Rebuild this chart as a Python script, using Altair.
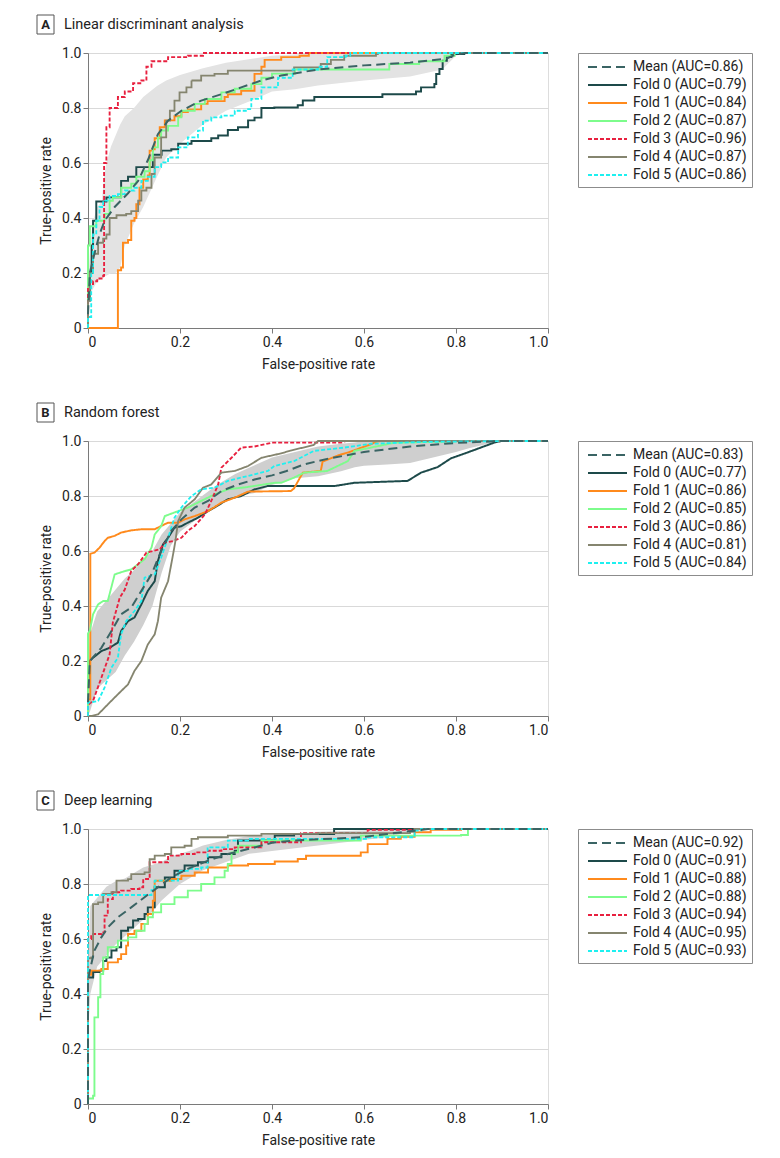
import altair as alt
import pandas as pd

FONT = "Roboto, Liberation Sans, sans-serif"

# ---------------- Panel titles ----------------
LETTERS = ["A", "B", "C"]
TITLES = ["Linear discriminant analysis", "Random forest", "Deep learning"]

SERIES = ["Mean", "Fold 0", "Fold 1", "Fold 2", "Fold 3", "Fold 4", "Fold 5"]
AUC_A = ["0.86", "0.79", "0.84", "0.87", "0.96", "0.87", "0.86"]
AUC_B = ["0.83", "0.77", "0.86", "0.85", "0.86", "0.81", "0.84"]
AUC_C = ["0.92", "0.91", "0.88", "0.88", "0.94", "0.95", "0.93"]

COLORS = ["#3a6464", "#1d4a4a", "#ff8a1c", "#7dfc8c", "#e8203f", "#85856f", "#1ef0f0"]
DASHES = [[9, 5], [1, 0], [1, 0], [1, 0], [4, 2], [1, 0], [4, 2]]
WIDTHS = [2.0, 1.8, 1.8, 1.8, 1.8, 1.8, 1.8]
BAND_COLORS = ["#e3e3e3", "#cfcfcf", "#d4d4d4"]

# ---------------- Panel A: LDA (fpr, tpr) ----------------
A_MEAN = [(0, 0.05), (0.004, 0.2), (0.014, 0.27), (0.025, 0.34), (0.036, 0.39), (0.058, 0.44),
          (0.087, 0.49), (0.109, 0.535), (0.13, 0.61), (0.152, 0.705), (0.174, 0.754), (0.203, 0.79),
          (0.246, 0.827), (0.29, 0.85), (0.333, 0.875), (0.377, 0.9), (0.42, 0.918), (0.5, 0.94),
          (0.6, 0.955), (0.7, 0.965), (0.78, 0.98), (0.8, 0.995), (0.82, 1.0), (1, 1)]
A_F0 = [(0, 0), (0, 0.1), (0.004, 0.2), (0.008, 0.3), (0.011, 0.39), (0.018, 0.46), (0.033, 0.46),
        (0.04, 0.475), (0.065, 0.475), (0.072, 0.535), (0.087, 0.55), (0.105, 0.585), (0.127, 0.585),
        (0.141, 0.63), (0.16, 0.645), (0.181, 0.65), (0.196, 0.67), (0.225, 0.68), (0.268, 0.69),
        (0.283, 0.70), (0.304, 0.72), (0.326, 0.73), (0.348, 0.755), (0.362, 0.765), (0.377, 0.8),
        (0.405, 0.802), (0.456, 0.81), (0.467, 0.827), (0.492, 0.84), (0.634, 0.84), (0.64, 0.85),
        (0.713, 0.86), (0.724, 0.875), (0.753, 0.887), (0.757, 0.924), (0.764, 0.942), (0.771, 0.972),
        (0.78, 0.985), (0.79, 0.996), (0.818, 1.0), (1, 1)]
A_F1 = [(0, 0), (0.065, 0), (0.065, 0.21), (0.072, 0.22), (0.076, 0.31), (0.087, 0.32), (0.094, 0.39),
        (0.101, 0.40), (0.105, 0.45), (0.112, 0.51), (0.12, 0.54), (0.13, 0.555), (0.134, 0.645),
        (0.141, 0.65), (0.145, 0.69), (0.156, 0.73), (0.167, 0.755), (0.188, 0.77), (0.203, 0.785),
        (0.217, 0.795), (0.246, 0.815), (0.26, 0.825), (0.297, 0.84), (0.304, 0.85), (0.333, 0.863),
        (0.362, 0.863), (0.362, 0.924), (0.377, 0.95), (0.384, 0.975), (0.41, 0.975), (0.42, 0.985),
        (0.46, 0.99), (0.48, 1.0), (1, 1)]
A_F2 = [(0, 0), (0, 0.3), (0.004, 0.37), (0.011, 0.37), (0.018, 0.39), (0.029, 0.39), (0.036, 0.415),
        (0.047, 0.463), (0.054, 0.475), (0.072, 0.51), (0.094, 0.525), (0.105, 0.55), (0.123, 0.57),
        (0.134, 0.61), (0.141, 0.657), (0.152, 0.693), (0.159, 0.718), (0.174, 0.735), (0.196, 0.766),
        (0.203, 0.79), (0.232, 0.815), (0.254, 0.833), (0.29, 0.857), (0.319, 0.87), (0.355, 0.887),
        (0.377, 0.91), (0.4, 0.925), (0.45, 0.94), (0.651, 0.94), (0.655, 0.96), (0.72, 0.97),
        (0.775, 0.99), (0.797, 1.0), (1, 1)]
A_F3 = [(0, 0), (0, 0.15), (0.004, 0.16), (0.011, 0.17), (0.02, 0.18), (0.033, 0.19), (0.035, 0.6),
        (0.04, 0.73), (0.047, 0.8), (0.065, 0.84), (0.08, 0.86), (0.098, 0.89), (0.116, 0.9),
        (0.127, 0.95), (0.138, 0.97), (0.167, 0.97), (0.174, 0.985), (0.217, 0.99), (0.25, 1.0), (1, 1)]
A_F4 = [(0, 0), (0, 0.1), (0.004, 0.2), (0.011, 0.27), (0.022, 0.31), (0.033, 0.325), (0.04, 0.34),
        (0.047, 0.40), (0.062, 0.41), (0.083, 0.415), (0.094, 0.425), (0.109, 0.463), (0.116, 0.5),
        (0.127, 0.51), (0.138, 0.56), (0.145, 0.62), (0.159, 0.693), (0.17, 0.754), (0.178, 0.79),
        (0.188, 0.827), (0.199, 0.857), (0.214, 0.875), (0.225, 0.9), (0.246, 0.918), (0.275, 0.924),
        (0.304, 0.936), (0.376, 0.936), (0.448, 0.948), (0.506, 0.96), (0.528, 0.975), (0.557, 0.99),
        (0.626, 0.996), (0.63, 1.0), (1, 1)]
A_F5 = [(0, 0), (0, 0.04), (0.007, 0.2), (0.011, 0.34), (0.018, 0.39), (0.025, 0.44), (0.033, 0.463),
        (0.047, 0.48), (0.065, 0.487), (0.08, 0.5), (0.101, 0.51), (0.116, 0.535), (0.13, 0.55),
        (0.145, 0.585), (0.159, 0.602), (0.174, 0.62), (0.196, 0.657), (0.217, 0.693), (0.239, 0.718),
        (0.25, 0.754), (0.268, 0.766), (0.29, 0.772), (0.319, 0.79), (0.348, 0.796), (0.355, 0.833),
        (0.377, 0.875), (0.413, 0.91), (0.445, 0.94), (0.5, 0.95), (0.52, 0.985), (0.56, 0.99),
        (0.57, 1.0), (1, 1)]
A_BAND_X = [0, 0.005, 0.01, 0.02, 0.03, 0.035, 0.04, 0.05, 0.06, 0.07, 0.08, 0.1, 0.12, 0.15, 0.17,
            0.2, 0.25, 0.3, 0.36, 0.4, 0.45, 0.5, 0.6, 0.7, 0.77, 0.8, 0.82, 1.0]
A_BAND_HI = [0.15, 0.3, 0.38, 0.44, 0.46, 0.55, 0.6, 0.66, 0.7, 0.74, 0.77, 0.8, 0.84, 0.88, 0.9,
             0.92, 0.945, 0.965, 0.98, 0.99, 0.995, 1.0, 1.0, 1.0, 1.0, 1.0, 1.0, 1.0]
A_BAND_LO = [0.05, 0.12, 0.14, 0.17, 0.18, 0.19, 0.19, 0.2, 0.2, 0.22, 0.3, 0.38, 0.44, 0.55, 0.62,
             0.67, 0.74, 0.79, 0.83, 0.86, 0.868, 0.882, 0.9, 0.915, 0.94, 0.99, 1.0, 1.0]

# ---------------- Panel B: Random forest ----------------
B_MEAN = [(0, 0.05), (0.004, 0.2), (0.029, 0.248), (0.051, 0.309), (0.072, 0.37), (0.094, 0.394),
          (0.116, 0.455), (0.138, 0.515), (0.159, 0.6), (0.181, 0.673), (0.203, 0.715), (0.232, 0.758),
          (0.261, 0.782), (0.29, 0.818), (0.326, 0.842), (0.362, 0.86), (0.4, 0.875), (0.43, 0.89),
          (0.47, 0.915), (0.52, 0.935), (0.6, 0.96), (0.7, 0.98), (0.8, 0.993), (0.9, 1.0), (1, 1)]
B_F0 = [(0, 0), (0, 0.1), (0.004, 0.2), (0.011, 0.212), (0.029, 0.236), (0.047, 0.248), (0.065, 0.267),
        (0.072, 0.309), (0.087, 0.345), (0.101, 0.358), (0.116, 0.406), (0.13, 0.455), (0.145, 0.49),
        (0.152, 0.564), (0.163, 0.624), (0.174, 0.648), (0.188, 0.685), (0.203, 0.69), (0.217, 0.703),
        (0.239, 0.721), (0.261, 0.745), (0.275, 0.758), (0.304, 0.788), (0.333, 0.8), (0.362, 0.824),
        (0.39, 0.836), (0.535, 0.836), (0.579, 0.848), (0.695, 0.855), (0.724, 0.885), (0.76, 0.905),
        (0.789, 0.937), (0.818, 0.954), (0.883, 0.994), (0.898, 1.0), (1, 1)]
B_F1 = [(0, 0), (0, 0.06), (0.005, 0.06), (0.005, 0.59), (0.014, 0.594), (0.025, 0.612), (0.036, 0.636),
        (0.043, 0.648), (0.058, 0.655), (0.072, 0.667), (0.094, 0.675), (0.116, 0.679), (0.145, 0.679),
        (0.159, 0.691), (0.174, 0.703), (0.196, 0.703), (0.21, 0.715), (0.232, 0.727), (0.261, 0.745),
        (0.29, 0.776), (0.319, 0.794), (0.348, 0.816), (0.441, 0.818), (0.448, 0.828), (0.467, 0.885),
        (0.506, 0.891), (0.51, 0.925), (0.546, 0.949), (0.565, 0.958), (0.615, 0.988), (0.626, 0.997),
        (0.637, 1.0), (1, 1)]
B_F2 = [(0, 0), (0, 0.3), (0.004, 0.31), (0.011, 0.37), (0.022, 0.406), (0.033, 0.418), (0.043, 0.418),
        (0.058, 0.515), (0.08, 0.527), (0.094, 0.533), (0.109, 0.552), (0.123, 0.57), (0.138, 0.612),
        (0.145, 0.66), (0.159, 0.69), (0.167, 0.727), (0.196, 0.745), (0.217, 0.758), (0.246, 0.782),
        (0.275, 0.806), (0.304, 0.824), (0.348, 0.833), (0.406, 0.848), (0.42, 0.848), (0.448, 0.867),
        (0.47, 0.885), (0.52, 0.891), (0.565, 0.927), (0.579, 0.964), (0.615, 0.976), (0.666, 0.994),
        (0.84, 1.0), (1, 1)]
B_F3 = [(0, 0), (0, 0.04), (0.011, 0.055), (0.029, 0.139), (0.047, 0.224), (0.054, 0.34), (0.069, 0.43),
        (0.08, 0.46), (0.094, 0.527), (0.109, 0.552), (0.127, 0.594), (0.141, 0.6), (0.156, 0.606),
        (0.167, 0.63), (0.185, 0.636), (0.203, 0.648), (0.217, 0.673), (0.232, 0.691), (0.254, 0.733),
        (0.268, 0.782), (0.283, 0.842), (0.29, 0.903), (0.312, 0.939), (0.333, 0.976), (0.362, 0.98),
        (0.4, 0.994), (0.55, 0.994), (0.56, 1.0), (1, 1)]
B_F4 = [(0, 0), (0.007, 0), (0.022, 0.006), (0.043, 0.042), (0.065, 0.079), (0.087, 0.115), (0.101, 0.164),
        (0.116, 0.2), (0.13, 0.26), (0.145, 0.297), (0.152, 0.345), (0.159, 0.43), (0.174, 0.49),
        (0.185, 0.588), (0.19, 0.636), (0.196, 0.709), (0.21, 0.758), (0.232, 0.788), (0.25, 0.83),
        (0.268, 0.842), (0.29, 0.885), (0.319, 0.891), (0.348, 0.909), (0.377, 0.939), (0.42, 0.955),
        (0.44, 0.965), (0.49, 0.985), (0.5, 1.0), (1, 1)]
B_F5 = [(0, 0), (0, 0.05), (0.007, 0.05), (0.022, 0.055), (0.036, 0.103), (0.051, 0.176), (0.065, 0.212),
        (0.072, 0.297), (0.083, 0.345), (0.101, 0.382), (0.116, 0.418), (0.123, 0.503), (0.145, 0.515),
        (0.159, 0.576), (0.174, 0.648), (0.188, 0.721), (0.203, 0.758), (0.225, 0.8), (0.246, 0.824),
        (0.275, 0.83), (0.304, 0.855), (0.348, 0.873), (0.391, 0.891), (0.405, 0.909), (0.448, 0.927),
        (0.491, 0.964), (0.557, 0.976), (0.615, 0.99), (0.738, 0.997), (0.927, 1.0), (1, 1)]
B_BAND_X = [0, 0.005, 0.02, 0.04, 0.06, 0.08, 0.1, 0.12, 0.14, 0.16, 0.18, 0.2, 0.24, 0.28, 0.32,
            0.36, 0.4, 0.45, 0.5, 0.55, 0.58, 0.6, 0.65, 0.7, 0.75, 0.8, 0.83, 0.88, 0.9, 1.0]
B_BAND_HI = [0.1, 0.3, 0.38, 0.42, 0.46, 0.5, 0.53, 0.57, 0.6, 0.66, 0.7, 0.74, 0.79, 0.84, 0.88,
             0.91, 0.94, 0.96, 0.98, 0.99, 0.995, 1.0, 1.0, 1.0, 1.0, 1.0, 1.0, 1.0, 1.0, 1.0]
B_BAND_LO = [0.0, 0.02, 0.1, 0.13, 0.16, 0.22, 0.27, 0.33, 0.4, 0.52, 0.62, 0.67, 0.72, 0.77, 0.8,
             0.81, 0.84, 0.865, 0.872, 0.89, 0.905, 0.91, 0.915, 0.92, 0.94, 0.96, 0.975, 0.994, 1.0, 1.0]

# ---------------- Panel C: Deep learning ----------------
C_MEAN = [(0, 0.0), (0, 0.45), (0.004, 0.485), (0.014, 0.558), (0.029, 0.606), (0.043, 0.642),
          (0.065, 0.679), (0.094, 0.715), (0.123, 0.752), (0.152, 0.788), (0.181, 0.824), (0.217, 0.855),
          (0.261, 0.885), (0.304, 0.909), (0.362, 0.933), (0.4, 0.95), (0.448, 0.958), (0.593, 0.97),
          (0.71, 0.994), (0.739, 1.0), (1, 1)]
C_F0 = [(0, 0), (0, 0.46), (0.011, 0.48), (0.025, 0.485), (0.033, 0.52), (0.04, 0.533), (0.051, 0.558),
        (0.062, 0.57), (0.072, 0.63), (0.087, 0.642), (0.098, 0.667), (0.109, 0.673), (0.123, 0.691),
        (0.13, 0.715), (0.145, 0.788), (0.167, 0.824), (0.188, 0.848), (0.21, 0.867), (0.239, 0.879),
        (0.261, 0.897), (0.29, 0.909), (0.319, 0.921), (0.326, 0.958), (0.377, 0.958), (0.406, 0.976),
        (0.448, 0.982), (0.535, 1.0), (1, 1)]
C_F1 = [(0, 0), (0, 0.47), (0.007, 0.485), (0.029, 0.491), (0.043, 0.515), (0.065, 0.527), (0.072, 0.545),
        (0.083, 0.576), (0.087, 0.618), (0.101, 0.63), (0.116, 0.655), (0.13, 0.691), (0.141, 0.739),
        (0.145, 0.812), (0.181, 0.818), (0.203, 0.83), (0.232, 0.842), (0.261, 0.86), (0.304, 0.867),
        (0.348, 0.873), (0.406, 0.882), (0.427, 0.882), (0.456, 0.891), (0.474, 0.903), (0.593, 0.915),
        (0.608, 0.945), (0.651, 0.964), (0.68, 0.972), (0.71, 0.988), (0.745, 0.997), (0.811, 1.0), (1, 1)]
C_F2 = [(0, 0), (0, 0.02), (0.011, 0.03), (0.014, 0.315), (0.022, 0.388), (0.027, 0.473), (0.033, 0.533),
        (0.043, 0.57), (0.065, 0.594), (0.087, 0.606), (0.105, 0.63), (0.123, 0.655), (0.13, 0.679),
        (0.141, 0.697), (0.159, 0.727), (0.188, 0.752), (0.217, 0.776), (0.246, 0.8), (0.275, 0.824),
        (0.297, 0.848), (0.304, 0.873), (0.312, 0.915), (0.326, 0.939), (0.377, 0.958), (0.593, 0.976),
        (0.811, 0.978), (0.826, 1.0), (1, 1)]
C_F3 = [(0, 0), (0, 0.6), (0.007, 0.618), (0.029, 0.624), (0.036, 0.685), (0.043, 0.745), (0.054, 0.77),
        (0.072, 0.776), (0.094, 0.782), (0.112, 0.788), (0.12, 0.818), (0.13, 0.818), (0.134, 0.879),
        (0.159, 0.879), (0.174, 0.903), (0.203, 0.909), (0.232, 0.915), (0.261, 0.921), (0.29, 0.927),
        (0.319, 0.933), (0.377, 0.952), (0.463, 0.985), (0.608, 0.997), (0.71, 1.0), (1, 1)]
C_F4 = [(0, 0), (0, 0.53), (0.007, 0.533), (0.011, 0.727), (0.022, 0.733), (0.033, 0.764), (0.051, 0.77),
        (0.062, 0.812), (0.087, 0.818), (0.094, 0.836), (0.123, 0.842), (0.134, 0.89), (0.145, 0.903),
        (0.167, 0.909), (0.181, 0.933), (0.21, 0.939), (0.225, 0.964), (0.239, 0.97), (0.304, 0.976),
        (0.377, 0.982), (0.5, 0.985), (0.7, 0.99), (0.71, 1.0), (1, 1)]
C_F5 = [(0, 0), (0, 0.76), (0.094, 0.76), (0.138, 0.778), (0.145, 0.812), (0.159, 0.812), (0.196, 0.848),
        (0.217, 0.855), (0.246, 0.86), (0.26, 0.933), (0.304, 0.958), (0.348, 0.964), (0.593, 0.964),
        (0.608, 0.97), (0.71, 0.994), (0.724, 1.0), (1, 1)]
C_BAND_X = [0, 0.005, 0.02, 0.04, 0.06, 0.08, 0.1, 0.12, 0.14, 0.16, 0.18, 0.2, 0.22, 0.25, 0.3,
            0.35, 0.4, 0.5, 0.6, 0.65, 0.7, 0.75, 1.0]
C_BAND_HI = [0.5, 0.72, 0.75, 0.79, 0.81, 0.82, 0.84, 0.86, 0.87, 0.88, 0.9, 0.91, 0.92, 0.94, 0.96,
             0.975, 0.98, 0.99, 0.995, 1.0, 1.0, 1.0, 1.0]
C_BAND_LO = [0.25, 0.4, 0.5, 0.54, 0.58, 0.61, 0.64, 0.67, 0.7, 0.74, 0.77, 0.8, 0.82, 0.85, 0.88,
             0.91, 0.92, 0.94, 0.96, 0.97, 0.99, 1.0, 1.0]

PANELS = [
    dict(curves=[A_MEAN, A_F0, A_F1, A_F2, A_F3, A_F4, A_F5], auc=AUC_A,
         band=(A_BAND_X, A_BAND_HI, A_BAND_LO), interp="step-after"),
    dict(curves=[B_MEAN, B_F0, B_F1, B_F2, B_F3, B_F4, B_F5], auc=AUC_B,
         band=(B_BAND_X, B_BAND_HI, B_BAND_LO), interp="linear"),
    dict(curves=[C_MEAN, C_F0, C_F1, C_F2, C_F3, C_F4, C_F5], auc=AUC_C,
         band=(C_BAND_X, C_BAND_HI, C_BAND_LO), interp="step-after"),
]

W, H = 460, 275
TICKS = [0, 0.2, 0.4, 0.6, 0.8, 1.0]
LABEL_EXPR = "datum.value == 0 ? '0' : format(datum.value, '.1f')"


def axis(title, grid):
    return alt.Axis(title=title, values=TICKS, labelExpr=LABEL_EXPR, grid=grid,
                    gridColor="#d9d9d9", gridWidth=1, domainColor="#7a7a7a", tickColor="#7a7a7a",
                    tickSize=5, labelFontSize=14, titleFontSize=14, titleFontWeight="normal",
                    labelColor="#222222", titleColor="#222222", labelFont=FONT, titleFont=FONT,
                    labelPadding=2, titlePadding=8)


def make_panel(k):
    p = PANELS[k]
    labels = [f"{s} (AUC={a})" for s, a in zip(SERIES, p["auc"])]
    rows = []
    for s_idx, pts in enumerate(p["curves"]):
        for i, (x, y) in enumerate(pts):
            rows.append(dict(series=labels[s_idx], fpr=x, tpr=y, i=i, mean=(s_idx == 0)))
    df = pd.DataFrame(rows)
    bx, bhi, blo = p["band"]
    band_df = pd.DataFrame(dict(fpr=bx, tpr=bhi, lo=blo))

    xs = alt.Scale(domain=[0, 1], nice=False, zero=False)
    ys = alt.Scale(domain=[0, 1], nice=False, zero=False)
    X = alt.X("fpr:Q", scale=xs, axis=axis("False-positive rate", False))
    Y = alt.Y("tpr:Q", scale=ys, axis=axis("True-positive rate", True))

    color = alt.Color("series:N", scale=alt.Scale(domain=labels, range=COLORS),
                      legend=alt.Legend(title=None, orient="none", legendX=490, legendY=0,
                                        padding=5, strokeColor="#8c8c8c", fillColor="white",
                                        symbolType="M-0.5,0H4.375", symbolSize=256,
                                        symbolStrokeWidth=2, labelFontSize=14, labelFont=FONT,
                                        labelColor="#222222", rowPadding=2, labelOffset=32,
                                        labelLimit=300, cornerRadius=0))
    dash = alt.StrokeDash("series:N", scale=alt.Scale(domain=labels, range=DASHES), legend=None)
    swidth = alt.StrokeWidth("series:N", scale=alt.Scale(domain=labels, range=WIDTHS), legend=None)

    band = alt.Chart(band_df).mark_area(color=BAND_COLORS[k], opacity=1).encode(
        x=X, y=Y, y2=alt.Y2("lo:Q"))
    folds = alt.Chart(df).transform_filter("!datum.mean").mark_line(
        interpolate=p["interp"]).encode(x=X, y=Y, color=color, strokeDash=dash,
                                        strokeWidth=swidth, order=alt.Order("i:Q"))
    mean = alt.Chart(df).transform_filter("datum.mean").mark_line(
        interpolate="linear").encode(x=X, y=Y, color=color, strokeDash=dash,
                                     strokeWidth=swidth, order=alt.Order("i:Q"))

    tdf = pd.DataFrame(dict(letter=[LETTERS[k]], title=[TITLES[k]]))
    box = alt.Chart(tdf).mark_rect(fill="white", stroke="#555555", strokeWidth=1).encode(
        x=alt.value(-51), x2=alt.value(-34), y=alt.value(-38), y2=alt.value(-19))
    letter = alt.Chart(tdf).mark_text(align="center", baseline="middle", fontWeight="bold",
                                      fontSize=13, font=FONT, color="#222222").encode(
        x=alt.value(-42.5), y=alt.value(-28.5), text="letter:N")
    title = alt.Chart(tdf).mark_text(align="left", baseline="middle", fontSize=14.5, font=FONT,
                                     color="#222222").encode(
        x=alt.value(-24), y=alt.value(-28), text="title:N")

    return alt.layer(band, folds, mean, box, letter, title).properties(width=W, height=H)


chart = alt.vconcat(make_panel(0), make_panel(1), make_panel(2), spacing=30).resolve_scale(
    color="independent", strokeDash="independent", strokeWidth="independent"
).properties(
    padding={"left": 28, "top": 6, "right": 5, "bottom": 5}
).configure_view(stroke="transparent").configure(background="white")

chart.save("out.html", embed_options={"renderer": "svg", "actions": False})
